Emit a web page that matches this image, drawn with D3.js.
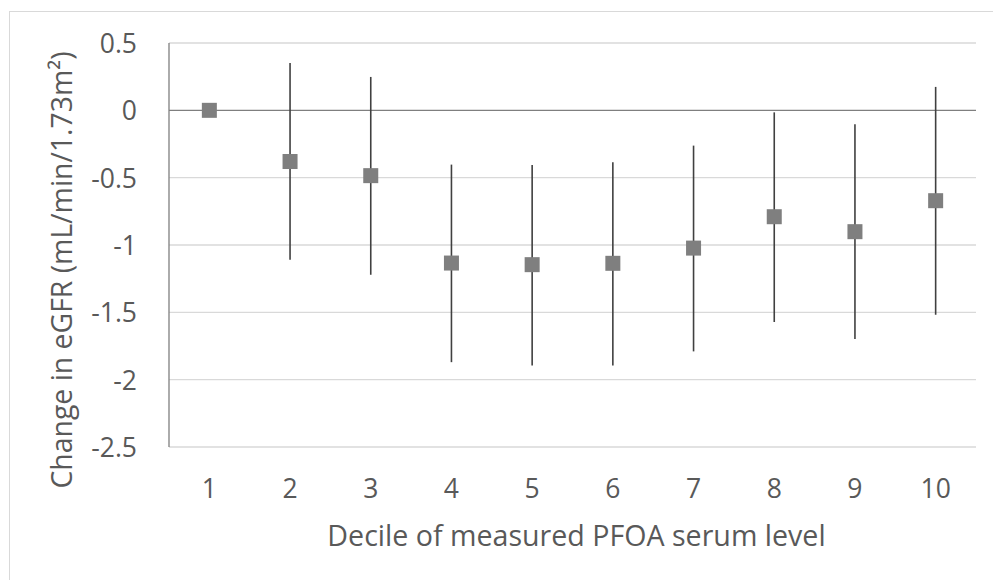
<!DOCTYPE html>
<html>
<head>
<meta charset="utf-8">
<script src="https://cdn.jsdelivr.net/npm/d3@7"></script>
<style>
  html, body { margin: 0; padding: 0; background: #fff; }
  svg { display: block; }
  text { font-family: "Open Sans", "Noto Sans", sans-serif; fill: #595959; }
</style>
</head>
<body>
<svg id="chart" width="993" height="580"></svg>
<script>
const categories = ["1", "2", "3", "4", "5", "6", "7", "8", "9", "10"];
const estimates = [0, -0.38, -0.485, -1.134, -1.146, -1.136, -1.023, -0.79, -0.901, -0.671];
const upper = [0, 0.352, 0.248, -0.403, -0.406, -0.386, -0.262, -0.015, -0.104, 0.174];
const lower = [0, -1.109, -1.221, -1.87, -1.894, -1.894, -1.79, -1.572, -1.698, -1.518];
const yTicks = [0.5, 0, -0.5, -1, -1.5, -2, -2.5];
const xTitle = "Decile of measured PFOA serum level";
const yTitle = "Change in eGFR (mL/min/1.73m²)";

(function () {
const svg = d3.select("#chart");
const pL = 169, pR = 976, pT = 43, pB = 447;

// chart frame
svg.append("rect").attr("x", 9.5).attr("y", 11.5).attr("width", 1000).attr("height", 1000)
  .attr("fill", "none").attr("stroke", "#d9d9d9").attr("stroke-width", 1);

const x = d3.scaleBand().domain(categories).range([pL, pR]).padding(0);
const y = d3.scaleLinear().domain([-2.5, 0.5]).range([pB, pT]);

// gridlines
svg.append("g").selectAll("line").data(yTicks.filter(d => d !== 0)).join("line")
  .attr("x1", pL).attr("x2", pR)
  .attr("y1", d => y(d)).attr("y2", d => y(d))
  .attr("stroke", "#d9d9d9").attr("stroke-width", 1.3);

// y axis
const yAxis = d3.axisLeft(y).tickValues(yTicks).tickSize(0).tickPadding(32)
  .tickFormat(d => String(d));
const gy = svg.append("g").attr("transform", `translate(${pL},0)`).call(yAxis);
gy.select(".domain").remove();
gy.selectAll("text").attr("font-size", 26.5).attr("fill", "#595959")
  .attr("font-family", "'Open Sans', sans-serif").attr("dy", "0.36em");

svg.append("line").attr("x1", pL).attr("x2", pL).attr("y1", y(0.5)).attr("y2", y(-2.5))
  .attr("stroke", "#7f7f7f").attr("stroke-width", 1.3);

// zero line (category axis)
svg.append("line").attr("x1", pL).attr("x2", pR).attr("y1", y(0)).attr("y2", y(0))
  .attr("stroke", "#7f7f7f").attr("stroke-width", 1.3);

// x tick labels
const xAxis = d3.axisBottom(x).tickSize(0).tickPadding(0);
const gx = svg.append("g").attr("transform", `translate(0,${pB})`).call(xAxis);
gx.select(".domain").remove();
gx.selectAll("text").attr("font-size", 26.5).attr("fill", "#595959")
  .attr("font-family", "'Open Sans', sans-serif").attr("dy", null).attr("y", 51);

// error bars
const idx = d3.range(categories.length);
svg.append("g").selectAll("line").data(idx.filter(i => upper[i] !== lower[i])).join("line")
  .attr("x1", i => x(categories[i]) + x.bandwidth() / 2)
  .attr("x2", i => x(categories[i]) + x.bandwidth() / 2)
  .attr("y1", i => y(upper[i])).attr("y2", i => y(lower[i]))
  .attr("stroke", "#404040").attr("stroke-width", 1.6);

// markers
const ms = 15;
svg.append("g").selectAll("rect").data(idx).join("rect")
  .attr("x", i => x(categories[i]) + x.bandwidth() / 2 - ms / 2)
  .attr("y", i => y(estimates[i]) - ms / 2)
  .attr("width", ms).attr("height", ms)
  .attr("fill", "#7f7f7f");

// axis titles
svg.append("text").attr("x", (pL + pR) / 2 + 4).attr("y", 546)
  .attr("text-anchor", "middle").attr("font-size", 28.6).text(xTitle);

svg.append("text").attr("transform", "translate(72,270) rotate(-90)")
  .attr("text-anchor", "middle").attr("font-size", 28.4).text(yTitle);
})();
</script>
</body>
</html>
